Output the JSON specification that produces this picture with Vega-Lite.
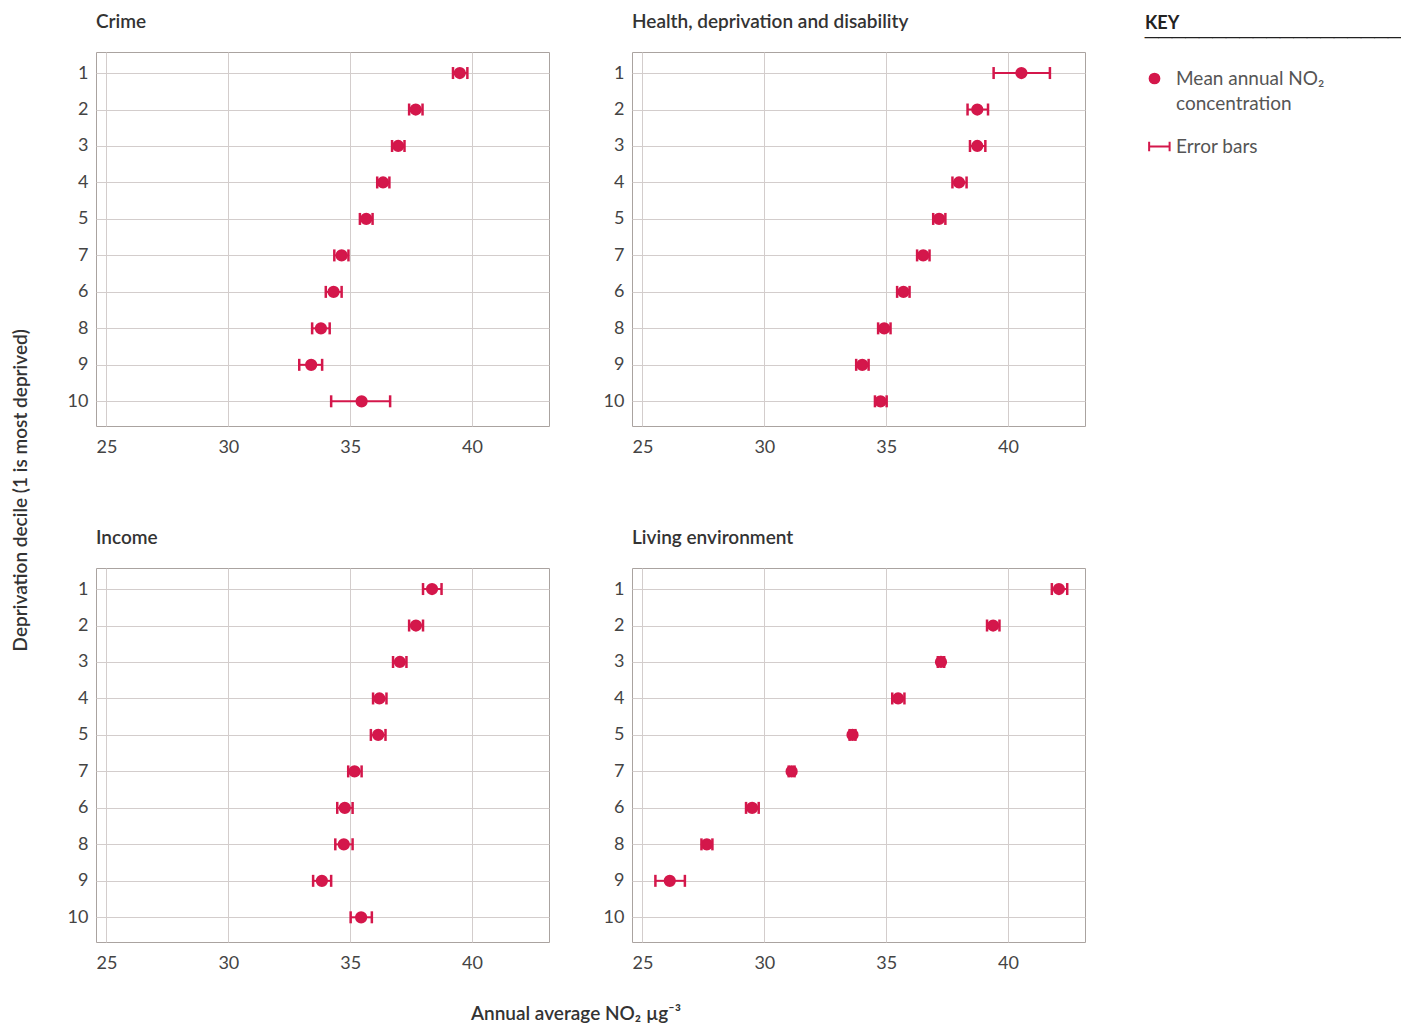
{
  "$schema": "https://vega.github.io/schema/vega-lite/v6.json",
  "background": "white",
  "padding": {"left": 11, "top": 12, "right": 5, "bottom": 3},
  "title": {"text": "Deprivation decile (1 is most deprived)", "orient": "left", "anchor": "middle", "font": "Lato", "fontSize": 19, "fontWeight": 600, "color": "#333333", "offset": 36, "dx": 28},
  "data": {"values": [
    {"panel": "Crime", "decile": "1", "mean": 39.50, "lo": 39.22, "hi": 39.81},
    {"panel": "Crime", "decile": "2", "mean": 37.69, "lo": 37.42, "hi": 37.97},
    {"panel": "Crime", "decile": "3", "mean": 36.97, "lo": 36.72, "hi": 37.23},
    {"panel": "Crime", "decile": "4", "mean": 36.35, "lo": 36.11, "hi": 36.61},
    {"panel": "Crime", "decile": "5", "mean": 35.66, "lo": 35.40, "hi": 35.92},
    {"panel": "Crime", "decile": "7", "mean": 34.65, "lo": 34.35, "hi": 34.93},
    {"panel": "Crime", "decile": "6", "mean": 34.32, "lo": 34.00, "hi": 34.65},
    {"panel": "Crime", "decile": "8", "mean": 33.80, "lo": 33.44, "hi": 34.16},
    {"panel": "Crime", "decile": "9", "mean": 33.40, "lo": 32.91, "hi": 33.85},
    {"panel": "Crime", "decile": "10", "mean": 35.47, "lo": 34.22, "hi": 36.64},
    {"panel": "Health, deprivation and disability", "decile": "1", "mean": 40.55, "lo": 39.41, "hi": 41.72},
    {"panel": "Health, deprivation and disability", "decile": "2", "mean": 38.74, "lo": 38.34, "hi": 39.18},
    {"panel": "Health, deprivation and disability", "decile": "3", "mean": 38.74, "lo": 38.44, "hi": 39.07},
    {"panel": "Health, deprivation and disability", "decile": "4", "mean": 37.99, "lo": 37.72, "hi": 38.30},
    {"panel": "Health, deprivation and disability", "decile": "5", "mean": 37.17, "lo": 36.93, "hi": 37.43},
    {"panel": "Health, deprivation and disability", "decile": "7", "mean": 36.52, "lo": 36.27, "hi": 36.78},
    {"panel": "Health, deprivation and disability", "decile": "6", "mean": 35.71, "lo": 35.45, "hi": 35.96},
    {"panel": "Health, deprivation and disability", "decile": "8", "mean": 34.92, "lo": 34.67, "hi": 35.18},
    {"panel": "Health, deprivation and disability", "decile": "9", "mean": 34.02, "lo": 33.77, "hi": 34.28},
    {"panel": "Health, deprivation and disability", "decile": "10", "mean": 34.77, "lo": 34.54, "hi": 35.02},
    {"panel": "Income", "decile": "1", "mean": 38.36, "lo": 37.99, "hi": 38.75},
    {"panel": "Income", "decile": "2", "mean": 37.70, "lo": 37.42, "hi": 37.99},
    {"panel": "Income", "decile": "3", "mean": 37.04, "lo": 36.76, "hi": 37.31},
    {"panel": "Income", "decile": "4", "mean": 36.20, "lo": 35.94, "hi": 36.49},
    {"panel": "Income", "decile": "5", "mean": 36.15, "lo": 35.85, "hi": 36.45},
    {"panel": "Income", "decile": "7", "mean": 35.18, "lo": 34.92, "hi": 35.47},
    {"panel": "Income", "decile": "6", "mean": 34.78, "lo": 34.47, "hi": 35.10},
    {"panel": "Income", "decile": "8", "mean": 34.74, "lo": 34.39, "hi": 35.10},
    {"panel": "Income", "decile": "9", "mean": 33.84, "lo": 33.48, "hi": 34.22},
    {"panel": "Income", "decile": "10", "mean": 35.45, "lo": 35.02, "hi": 35.89},
    {"panel": "Living environment", "decile": "1", "mean": 42.09, "lo": 41.80, "hi": 42.43},
    {"panel": "Living environment", "decile": "2", "mean": 39.39, "lo": 39.14, "hi": 39.65},
    {"panel": "Living environment", "decile": "3", "mean": 37.25, "lo": 37.12, "hi": 37.38},
    {"panel": "Living environment", "decile": "4", "mean": 35.49, "lo": 35.25, "hi": 35.75},
    {"panel": "Living environment", "decile": "5", "mean": 33.62, "lo": 33.50, "hi": 33.74},
    {"panel": "Living environment", "decile": "7", "mean": 31.12, "lo": 31.00, "hi": 31.24},
    {"panel": "Living environment", "decile": "6", "mean": 29.50, "lo": 29.25, "hi": 29.77},
    {"panel": "Living environment", "decile": "8", "mean": 27.64, "lo": 27.42, "hi": 27.87},
    {"panel": "Living environment", "decile": "9", "mean": 26.12, "lo": 25.53, "hi": 26.74}
  ]},
  "columns": 2,
  "facet": {
    "field": "panel", "type": "nominal",
    "sort": ["Crime", "Health, deprivation and disability", "Income", "Living environment"],
    "header": {
      "title": "Annual average NO₂ µg⁻³", "titleOrient": "bottom", "titleFont": "Lato", "titleFontSize": 19, "titleFontWeight": 600, "titleColor": "#333333", "titlePadding": 32,
      "labelOrient": "top", "labelAnchor": "start", "labelAlign": "left", "labelFont": "Lato", "labelFontSize": 19, "labelFontWeight": 600, "labelColor": "#333333", "labelPadding": 20
    }
  },
  "spacing": {"row": 71, "column": 52},
  "resolve": {"axis": {"x": "independent", "y": "independent"}},
  "spec": {
    "width": 453,
    "height": 374,
    "encoding": {
      "y": {"field": "decile", "type": "ordinal", "scale": {"type": "point", "domain": ["1", "2", "3", "4", "5", "7", "6", "8", "9", "10"], "padding": 0.627, "align": 0.46}, "axis": {"title": null, "grid": true, "ticks": false, "domain": false, "labelPadding": 8}}
    },
    "layer": [
      {
        "mark": {"type": "rule", "color": "#d4174b", "strokeWidth": 2},
        "encoding": {
          "x": {"field": "lo", "type": "quantitative", "scale": {"domain": [24.57, 43.16], "nice": false, "zero": false}, "axis": {"title": null, "values": [25, 30, 35, 40], "grid": true, "ticks": false, "domain": false, "labelPadding": 12}},
          "x2": {"field": "hi"}
        }
      },
      {
        "mark": {"type": "tick", "color": "#d4174b", "thickness": 2.5, "size": 12, "opacity": 1},
        "encoding": {"x": {"field": "lo", "type": "quantitative"}}
      },
      {
        "mark": {"type": "tick", "color": "#d4174b", "thickness": 2.5, "size": 12, "opacity": 1},
        "encoding": {"x": {"field": "hi", "type": "quantitative"}}
      },
      {
        "mark": {"type": "point", "filled": true, "fill": "#d4174b", "stroke": "#d4174b", "strokeWidth": 2, "size": 105, "opacity": 1},
        "encoding": {
          "x": {"field": "mean", "type": "quantitative"},
          "shape": {
            "datum": "Mean annual NO₂ concentration",
            "scale": {"domain": ["Mean annual NO₂ concentration", "Error bars"], "range": ["circle", "M-1.1,0H3.1M-1.1,-1V1M3.1,-1V1"]},
            "legend": {
              "orient": "none", "legendX": 1049, "legendY": -37,
              "title": ["KEY", "────────────────────"],
              "titleFont": "Lato", "titleFontSize": 18, "titleFontWeight": "bold", "titleColor": "#222222", "titleLineHeight": 14, "titlePadding": 22, "titleLimit": 400,
              "labelFont": "Lato", "labelFontSize": 19, "labelColor": "#555555", "labelLimit": 300, "labelOffset": 12,
              "labelExpr": "datum.value == 'Error bars' ? 'Error bars' : ['Mean annual NO₂', 'concentration']",
              "symbolSize": 95, "symbolStrokeWidth": 2, "rowPadding": 23
            }
          }
        }
      }
    ]
  },
  "config": {
    "font": "Lato",
    "view": {"stroke": "#aaa3a0", "strokeWidth": 1},
    "style": {"guide-label": {"lineHeight": 25}},
    "axis": {"labelFont": "Lato", "labelFontSize": 18, "labelColor": "#444444", "gridColor": "#d3cdcc", "gridWidth": 1, "gridOpacity": 1}
  }
}
